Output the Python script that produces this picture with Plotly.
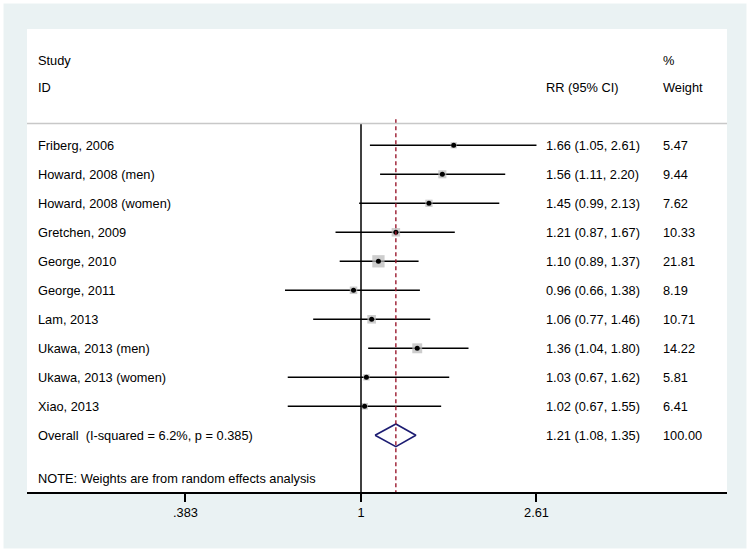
import plotly.graph_objects as go

studies = ["Friberg, 2006", "Howard, 2008 (men)", "Howard, 2008 (women)", "Gretchen, 2009",
           "George, 2010", "George, 2011", "Lam, 2013", "Ukawa, 2013 (men)",
           "Ukawa, 2013 (women)", "Xiao, 2013"]
rr = [1.66, 1.56, 1.45, 1.21, 1.10, 0.96, 1.06, 1.36, 1.03, 1.02]
lo = [1.05, 1.11, 0.99, 0.87, 0.89, 0.66, 0.77, 1.04, 0.67, 0.67]
hi = [2.61, 2.20, 2.13, 1.67, 1.37, 1.38, 1.46, 1.80, 1.62, 1.55]
weights = [5.47, 9.44, 7.62, 10.33, 21.81, 8.19, 10.71, 14.22, 5.81, 6.41]

overall_label = "Overall  (I-squared = 6.2%, p = 0.385)"
overall_rr = 1.21
overall_lo = 1.08
overall_hi = 1.35
overall_weight = 100.00

tick_vals = [0.383, 1, 2.61]
tick_text = [".383", "1", "2.61"]
note = "NOTE: Weights are from random effects analysis"

FONT = "Liberation Sans, Arial, sans-serif"
FS = 12.8
BG = "#eaf2f3"

rows = list(range(len(studies)))
overall_row = len(studies)
note_row = overall_row + 1.5
header_line_row = -0.75
y_bottom = 11.955
y_top = -4.01

fig = go.Figure()

# CI lines
cx, cy = [], []
for i, (a, b) in enumerate(zip(lo, hi)):
    cx += [a, b, None]
    cy += [i, i, None]
fig.add_trace(go.Scatter(x=cx, y=cy, mode="lines", line=dict(color="black", width=1.5),
                         hoverinfo="skip", showlegend=False))

# weight boxes
fig.add_trace(go.Scatter(x=rr, y=rows, mode="markers",
                         marker=dict(symbol="square", color="#b8b8b8",
                                     size=[2.63 * w ** 0.5 for w in weights], line=dict(width=0)),
                         showlegend=False))
# point estimates
fig.add_trace(go.Scatter(x=rr, y=rows, mode="markers",
                         marker=dict(symbol="circle", color="black", size=5),
                         showlegend=False))

# overall diamond
h = 0.39
fig.add_trace(go.Scatter(x=[overall_lo, overall_rr, overall_hi, overall_rr, overall_lo],
                         y=[overall_row, overall_row - h, overall_row, overall_row + h, overall_row],
                         mode="lines", line=dict(color="#1c1c72", width=1.6),
                         showlegend=False))

shapes = [
    # null line
    dict(type="line", xref="x", yref="y", x0=1, x1=1, y0=header_line_row, y1=y_bottom,
         line=dict(color="black", width=1.5)),
    # overall dashed line
    dict(type="line", xref="x", yref="y", x0=overall_rr, x1=overall_rr, y0=header_line_row - 0.15,
         y1=y_bottom, line=dict(color="#9b1b30", width=1.4, dash="4px,3px")),
    # header separator
    dict(type="line", xref="paper", yref="y", x0=0, x1=1, y0=header_line_row, y1=header_line_row,
         line=dict(color="#c8c8c8", width=1.5)),
    # outer white border
    dict(type="rect", xref="paper", yref="paper", x0=-27 / 700, x1=(750 - 27) / 700,
         y0=-60 / 463, y1=(463 + 29) / 463, line=dict(color="white", width=7), fillcolor="rgba(0,0,0,0)"),
]

ann = []
def txt(x, y, s, xref="paper"):
    ann.append(dict(x=x, y=y, xref=xref, yref="y", text=s, showarrow=False,
                    xanchor="left", yanchor="middle", font=dict(family=FONT, size=FS, color="black")))

def px(p):
    return (p - 27) / 700

col_study = px(36)
col_rr = px(544)
col_w = px(661)

txt(col_study, -2.94, "Study")
txt(col_study, -1.98, "ID")
txt(col_rr, -1.98, "RR (95% CI)")
txt(col_w, -2.94, "%")
txt(col_w, -1.98, "Weight")

for i, s in enumerate(studies):
    txt(col_study, i, s)
    txt(col_rr, i, f"{rr[i]:.2f} ({lo[i]:.2f}, {hi[i]:.2f})")
    txt(col_w, i, f"{weights[i]:.2f}")

txt(col_study, overall_row, overall_label)
txt(col_rr, overall_row, f"{overall_rr:.2f} ({overall_lo:.2f}, {overall_hi:.2f})")
txt(col_w, overall_row, f"{overall_weight:.2f}")
txt(col_study, note_row, note)

fig.update_layout(
    width=750, height=552,
    margin=dict(l=27, r=23, t=29, b=60),
    paper_bgcolor=BG, plot_bgcolor="white",
    shapes=shapes, annotations=ann,
    xaxis=dict(type="log", range=[-0.793, 0.869], tickvals=tick_vals, ticktext=tick_text,
               ticks="outside", ticklen=8, tickwidth=1.5, tickcolor="black",
               showline=True, linecolor="black", linewidth=1.5, showgrid=False, zeroline=False,
               tickfont=dict(family=FONT, size=FS, color="black"), fixedrange=True),
    yaxis=dict(range=[y_bottom, y_top], visible=False, showgrid=False, zeroline=False),
    showlegend=False,
)

fig.write_html("out.html", config={"displayModeBar": False},
               post_script="document.body.style.margin='0';document.body.style.overflow='hidden';")
